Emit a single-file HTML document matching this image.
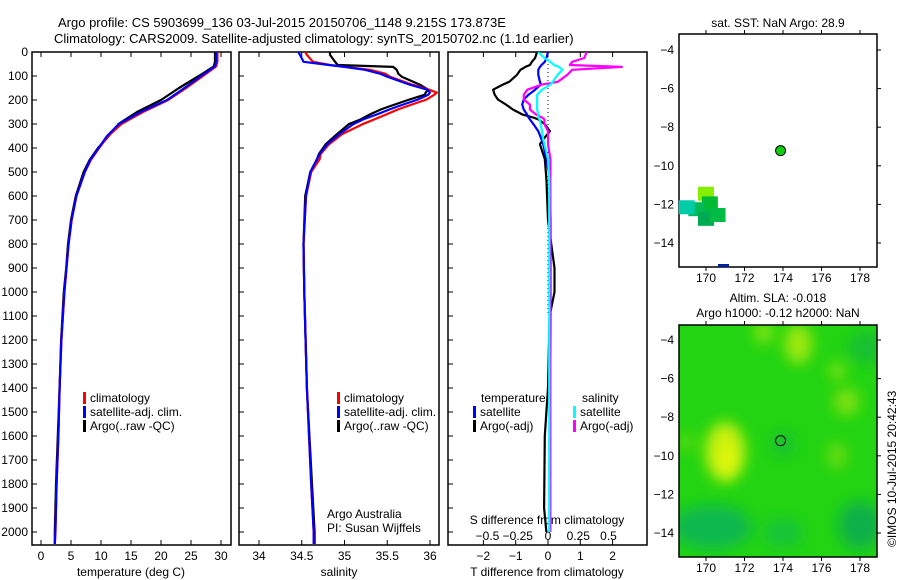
<!DOCTYPE html>
<html><head><meta charset="utf-8">
<style>
html,body{margin:0;padding:0;background:#fff;}
svg{display:block;font-family:"Liberation Sans",sans-serif;}
</style></head>
<body>
<svg id="chart" width="900" height="580" viewBox="0 0 900 580" xmlns="http://www.w3.org/2000/svg">
<defs>
<filter id="blur" x="-50%" y="-50%" width="200%" height="200%"><feGaussianBlur stdDeviation="7"/></filter>
<clipPath id="clipMap2"><rect x="679" y="325" width="198" height="232"/></clipPath>
<clipPath id="clipP1"><rect x="32" y="52" width="199" height="493"/></clipPath>
<clipPath id="clipP2"><rect x="239" y="52" width="200" height="493"/></clipPath>
<clipPath id="clipP3"><rect x="448" y="52" width="199" height="493"/></clipPath>
</defs>
<text x="58" y="27" font-size="13">Argo profile: CS 5903699_136 03-Jul-2015 20150706_1148 9.215S 173.873E</text>
<text x="54" y="43" font-size="13">Climatology: CARS2009. Satellite-adjusted climatology: synTS_20150702.nc (1.1d earlier)</text>
<g id="g"></g>
</svg>
<script>
// depth levels (m) shared by profiles
const depthT = [0,40,60,100,150,200,250,300,350,400,450,500,600,700,800,900,1000,1200,1400,1600,1800,2000,2050];
const tempClim = [29.4,29.4,29.2,27.0,24.2,21.2,17.0,13.4,11.2,9.7,8.3,7.3,5.9,5.1,4.6,4.25,3.9,3.4,3.1,2.9,2.6,2.4,2.3];
const tempSat  = [29.2,29.2,29.0,26.7,23.9,21.0,16.6,13.0,11.0,9.6,8.2,7.3,5.9,5.1,4.6,4.25,3.9,3.4,3.1,2.9,2.6,2.4,2.3];
const tempArgo = [29.0,29.0,28.8,26.3,23.0,20.0,16.0,12.9,11.3,9.5,8.1,7.1,5.8,5.0,4.5,4.2,3.8,3.35,3.1,2.8,2.5,2.3,2.3];
const depthS = [0,12,41,54,62,74,91,103,136,157,169,178,198,227,240,260,281,301,343,384,425,446,500,600,800,1000,1400,1800,2000,2050];
const salClim = [34.54,34.56,34.63,34.83,35.0,35.30,35.48,35.53,35.79,35.99,36.08,36.05,35.96,35.72,35.62,35.49,35.35,35.21,34.97,34.82,34.72,34.71,34.61,34.55,34.52,34.53,34.56,34.61,34.64,34.64];
const salSat  = [34.46,34.48,34.52,34.82,35.0,35.24,35.42,35.50,35.76,35.97,36.00,35.98,35.86,35.62,35.52,35.38,35.22,35.10,34.94,34.80,34.71,34.68,34.60,34.55,34.52,34.53,34.56,34.61,34.64,34.64];
const salArgo = [34.83,34.83,34.89,34.92,35.57,35.61,35.63,35.67,35.88,35.98,35.95,35.94,35.76,35.52,35.42,35.30,35.19,35.05,34.91,34.78,34.70,34.68,34.60,34.54,34.52,34.53,34.56,34.62,34.65,34.65];
const depthD = [0,25,41,54,62,74,95,124,136,157,178,198,219,240,260,273,281,301,330,364,384,446,529,700,900,1000,1100,1400,1600,1900,2000];
const tDiffSat  = [0,-0.05,-0.1,-0.2,-0.25,-0.3,-0.3,-0.25,-0.22,-0.4,-0.6,-0.75,-0.8,-0.75,-0.65,-0.6,-0.56,-0.45,-0.3,-0.2,-0.15,-0.05,0.06,0.08,0.08,0.08,0.08,0.07,0.07,0.07,0.07];
const tDiffArgo = [-0.34,-0.4,-0.5,-0.56,-0.7,-0.85,-0.96,-1.2,-1.4,-1.7,-1.65,-1.55,-1.3,-1.08,-0.8,-0.46,-0.3,-0.1,0.06,-0.15,-0.25,-0.1,-0.05,0.0,0.2,0.2,0.05,0.0,-0.1,-0.12,-0.05];
const sDiffSat  = [-0.08,-0.03,0.02,0.05,0.09,0.12,0.08,0.04,0.02,-0.05,-0.09,-0.09,-0.09,-0.09,-0.08,-0.08,-0.07,-0.06,-0.05,-0.04,-0.03,0.0,0.01,0.01,0.01,0.01,0.01,0.01,0.01,0.01,0.01];
const sDiffArgo = [0.32,0.3,0.2,0.18,0.61,0.2,0.16,0.08,-0.05,-0.17,-0.2,-0.2,-0.15,-0.15,-0.1,-0.05,-0.03,-0.03,0.0,0.0,0.0,0.02,0.02,0.02,0.02,0.02,0.02,0.02,0.02,0.02,0.02];
// tick labels
const depthTicks = [0,100,200,300,400,500,600,700,800,900,1000,1100,1200,1300,1400,1500,1600,1700,1800,1900,2000];
const tempTicks = [0,5,10,15,20,25,30];
const salTicks = [34,34.5,35,35.5,36];
const tDiffTicks = [-2,-1,0,1,2];
const sDiffTicks = [-0.5,-0.25,0,0.25,0.5];
const lonTicks = [170,172,174,176,178];
const latTicks = [-4,-6,-8,-10,-12,-14];
const argoLon = 173.873, argoLat = -9.215;

const NS = "http://www.w3.org/2000/svg";
const G = document.getElementById('g');
function el(tag, attrs, parent){const e=document.createElementNS(NS,tag);for(const k in attrs)e.setAttribute(k,attrs[k]);(parent||G).appendChild(e);return e;}
function txt(x,y,s,size,anchor,parent){const t=el('text',{x:x,y:y,'font-size':size||12,'text-anchor':anchor||'start'},parent);t.textContent=s;return t;}

const PB = 545;
const yD = d => 52 + d*0.24;
const xT = v => 41 + v*6.0;
const xS = v => 259 + (v-34)*85.5;
const xTd = v => 548 + v*32.3;
const xSd = v => 548 + v*121;

function frame(x,y,w,h,name){const r=el('rect',{x:x,y:y,width:w,height:h,fill:'none',stroke:'#000','stroke-width':1.5});}
function line(xs,ds,fx,color,name,clip,w){
  const pts=xs.map((v,i)=>fx(v).toFixed(1)+','+yD(ds[i]).toFixed(1)).join(' ');
  const p=el('polyline',{points:pts,fill:'none',stroke:color,'stroke-width':w||2.2,'clip-path':'url(#'+clip+')','stroke-linejoin':'round'});
  
  
}

frame(32,52,199,PB-52,'temperature-panel');
frame(239,52,200,PB-52,'salinity-panel');
frame(448,52,199,PB-52,'difference-panel');

depthTicks.forEach(d=>{
  const t=txt(28,yD(d)+4,String(d),12,'end');
  
  
  el('line',{x1:32,x2:37,y1:yD(d),y2:yD(d),stroke:'#000'});
  el('line',{x1:239,x2:244,y1:yD(d),y2:yD(d),stroke:'#000'});
  el('line',{x1:448,x2:453,y1:yD(d),y2:yD(d),stroke:'#000'});
});
function xticks(arr,fx,name,y){
  arr.forEach(v=>{
    const t=txt(fx(v),y,String(v).replace('-','\u2212'),12,'middle');
    
    
    el('line',{x1:fx(v),x2:fx(v),y1:52,y2:57,stroke:'#000'});
    el('line',{x1:fx(v),x2:fx(v),y1:PB,y2:PB-5,stroke:'#000'});
  });
}
xticks(tempTicks,xT,'temperature-tick-label',560);
xticks(salTicks,xS,'salinity-tick-label',560);
xticks(tDiffTicks,xTd,'t-diff-tick-label',560);
sDiffTicks.forEach(v=>{
  const t=txt(xSd(v),540,String(v).replace('-','\u2212'),12,'middle');
  
  
});
let t;
t=txt(131,576,'temperature (deg C)',12,'middle');
t=txt(339,576,'salinity',12,'middle');
t=txt(547,576,'T difference from climatology',12,'middle');
t=txt(547,524,'S difference from climatology',12,'middle');

const z=el('line',{x1:548,x2:548,y1:52,y2:yD(1100),stroke:'#000','stroke-dasharray':'1,3'});


line(tempArgo,depthT,xT,'#000','temp-argo-line','clipP1');
line(tempClim,depthT,xT,'#f00','temp-climatology-line','clipP1');
line(tempSat,depthT,xT,'#00f','temp-satellite-line','clipP1');
line(salArgo,depthS,xS,'#000','sal-argo-line','clipP2');
line(salClim,depthS,xS,'#f00','sal-climatology-line','clipP2');
line(salSat,depthS,xS,'#00f','sal-satellite-line','clipP2');
line(tDiffArgo,depthD,xTd,'#000','t-diff-argo-line','clipP3');
line(tDiffSat,depthD,xTd,'#00f','t-diff-satellite-line','clipP3');
line(sDiffArgo,depthD,xSd,'#f0f','s-diff-argo-line','clipP3');
line(sDiffSat,depthD,xSd,'#0ff','s-diff-satellite-line','clipP3');

function legend(x,y,color,label,name){
  el('rect',{x:x,y:y-10,width:3,height:12,fill:color});
  const tt=txt(x+7,y,label,12);
  
}
legend(83,402,'#f00','climatology','legend-climatology');
legend(83,416,'#00f','satellite-adj. clim.','legend-satellite-adj');
legend(83,430,'#000','Argo(..raw -QC)','legend-argo');
legend(337,402,'#f00','climatology','legend-sal-climatology');
legend(337,416,'#00f','satellite-adj. clim.','legend-sal-satellite-adj');
legend(337,430,'#000','Argo(..raw -QC)','legend-sal-argo');
t=txt(481,402,'temperature',12);
t=txt(582,402,'salinity',12);
legend(473,416,'#00f','satellite','legend-t-satellite');
legend(473,430,'#000','Argo(-adj)','legend-t-argo');
legend(573,416,'#0ff','satellite','legend-s-satellite');
legend(573,430,'#f0f','Argo(-adj)','legend-s-argo');
t=txt(327,518,'Argo Australia',12);
t=txt(327,532,'PI: Susan Wijffels',12);

function mapAxes(x0,y0,w,h,lat4y,name){
  const xL = lon => 706 + (lon-170)*19.25;
  const yL = lat => lat4y + (-4-lat)*19.3;
  frame(x0,y0,w,h,name);
  lonTicks.forEach(v=>{
    const tt=txt(xL(v),y0+h+15,String(v),12,'middle');
    
    el('line',{x1:xL(v),x2:xL(v),y1:y0,y2:y0-4,stroke:'#000'});
    el('line',{x1:xL(v),x2:xL(v),y1:y0+h,y2:y0+h+4,stroke:'#000'});
  });
  latTicks.forEach(v=>{
    const tt=txt(x0-5,yL(v)+4,String(v).replace('-','\u2212'),12,'end');
    
    el('line',{x1:x0+w,x2:x0+w+4,y1:yL(v),y2:yL(v),stroke:'#000'});
  });
  return {xL,yL};
}
t=txt(778,27,'sat. SST: NaN Argo: 28.9',12,'middle');
const m1=mapAxes(679,34,198,233,50,'sst-map');
[[170,-11.5,'#88ee00'],[170.2,-12,'#00bb33'],[169.5,-12.3,'#00bb55'],[169,-12.2,'#00ccaa'],[170.3,-12.6,'#00bb44'],[170,-12.8,'#00aa55'],[170.6,-12.6,'#00bb44']].forEach(c=>{
  const r=el('rect',{x:m1.xL(c[0])-8,y:m1.yL(c[1])-8,width:16,height:14,fill:c[2]});
  
});
el('rect',{x:718,y:264,width:11,height:3,fill:'#002299'});
let c=el('circle',{cx:m1.xL(argoLon),cy:m1.yL(argoLat),r:5,fill:'#11cc11',stroke:'#000','stroke-width':1});

t=txt(778,302,'Altim. SLA: -0.018',12,'middle');
t=txt(778,317,'Argo h1000: -0.12 h2000: NaN',12,'middle');
const gm=el('g',{'clip-path':'url(#clipMap2)'});
el('rect',{x:679,y:325,width:198,height:232,fill:'#22d412'},gm);
const bg=el('g',{filter:'url(#blur)'},gm);
[[171,-9.8,20,30,'#c8f010'],[171.2,-10.3,10,18,'#e0f808'],[174.8,-4.2,14,20,'#9ee810'],[173,-3.6,10,12,'#7ee410'],[177.3,-7.2,13,14,'#7ee010'],[176.8,-5.6,8,8,'#88e410'],[176.8,-10,10,14,'#66dc10'],[169,-9.3,6,10,'#66dc10'],
 [170.3,-13.7,40,22,'#10b850'],[178,-13.6,22,24,'#10b048'],[178.3,-4.4,18,16,'#18c030'],[174,-9.4,12,12,'#18c032'],[174,-14,20,14,'#18c43a']].forEach(b=>{
  el('ellipse',{cx:m1.xL(b[0]),cy:340+(-4-b[1])*19.3,rx:b[2],ry:b[3],fill:b[4]},bg);
});
const m2=mapAxes(679,325,198,232,340,'sla-map');
c=el('circle',{cx:m2.xL(argoLon),cy:m2.yL(argoLat),r:5,fill:'none',stroke:'#000','stroke-width':1});

t=txt(0,0,'©IMOS 10-Jul-2015 20:42:43',12,'start');
t.setAttribute('transform','translate(896,547) rotate(-90)');

</script>
</body></html>
